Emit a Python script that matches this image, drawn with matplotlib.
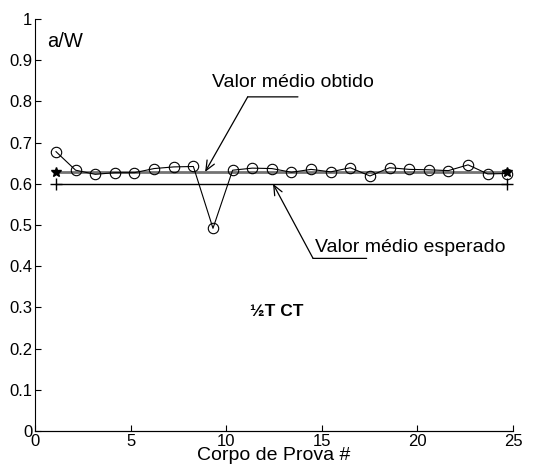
import numpy as np
import matplotlib
matplotlib.use('Agg')
import matplotlib.pyplot as plt

plt.rcParams['font.family'] = ['Liberation Sans', 'DejaVu Sans']

# a/W per specimen (1/2T CT)
specimen = np.arange(1, 25)
a_w = [0.678, 0.633, 0.623, 0.627, 0.627, 0.637, 0.641, 0.642, 0.492, 0.633,
       0.638, 0.637, 0.628, 0.635, 0.629, 0.639, 0.619, 0.639, 0.635, 0.634,
       0.632, 0.646, 0.624, 0.625]
expected_mean = 0.6
obtained_mean = np.mean(a_w)
ends = [specimen[0], specimen[-1]]

fig = plt.figure(figsize=(5.36, 4.71), dpi=100)
ax = fig.add_axes([35/536, 40/471, 478/536, 412/471])

ax.plot(ends, [expected_mean]*2, '-+', color='k', lw=1.0, ms=9, mew=1.0)
ax.plot(ends, [obtained_mean]*2, '-*', color='0.45', lw=2.0, ms=7,
        mec='k', mfc='k')
ax.plot(specimen, a_w, 'o-', color='k', lw=0.8, ms=7.5, mfc='none', mew=0.8)

ax.set_xlim(-0.0706, 24.29)
ax.set_ylim(0, 1)
ax.spines['top'].set_visible(False)
ax.spines['right'].set_visible(False)
ax.set_xticks([])
yt = np.linspace(0, 1, 11)
ax.set_yticks(yt)
ax.set_yticklabels(['%g' % v for v in yt])
ax.tick_params(axis='y', direction='in', length=4, labelsize=12, pad=2)

# tick scale along the bottom
sec = ax.secondary_xaxis('bottom', functions=(lambda x: 0.0722 + 1.0263*x,
                                              lambda s: (s - 0.0722)/1.0263))
sec.set_xticks([0, 5, 10, 15, 20, 25])
sec.tick_params(direction='in', length=4, labelsize=12, pad=2)
sec.set_xlabel('Corpo de Prova #', fontsize=14, labelpad=-1)

ax.text(0.0245, 0.933, 'a/W', transform=ax.transAxes, fontsize=14.5,
        va='baseline')
ax.text(0.505, 0.29, '½T CT', transform=ax.transAxes, fontsize=12.5,
        fontweight='bold', ha='center', va='center')

arrow = dict(arrowstyle='->,head_length=0.7,head_width=0.3', color='k',
             lw=0.9, shrinkA=0, shrinkB=0)
line = dict(arrowstyle='-', color='k', lw=0.9, shrinkA=0, shrinkB=0)

ax.text(8.97, 0.836, 'Valor médio obtido', fontsize=14, va='baseline')
ax.annotate('', xy=(8.6, obtained_mean), xytext=(10.77, 0.811), arrowprops=arrow)
ax.annotate('', xy=(13.33, 0.811), xytext=(10.77, 0.811), arrowprops=line)

ax.text(14.2, 0.435, 'Valor médio esperado', fontsize=14, va='baseline')
ax.annotate('', xy=(12.06, expected_mean), xytext=(14.1, 0.419), arrowprops=arrow)
ax.annotate('', xy=(16.83, 0.419), xytext=(14.1, 0.419), arrowprops=line)

fig.savefig('out.png', dpi=100)
